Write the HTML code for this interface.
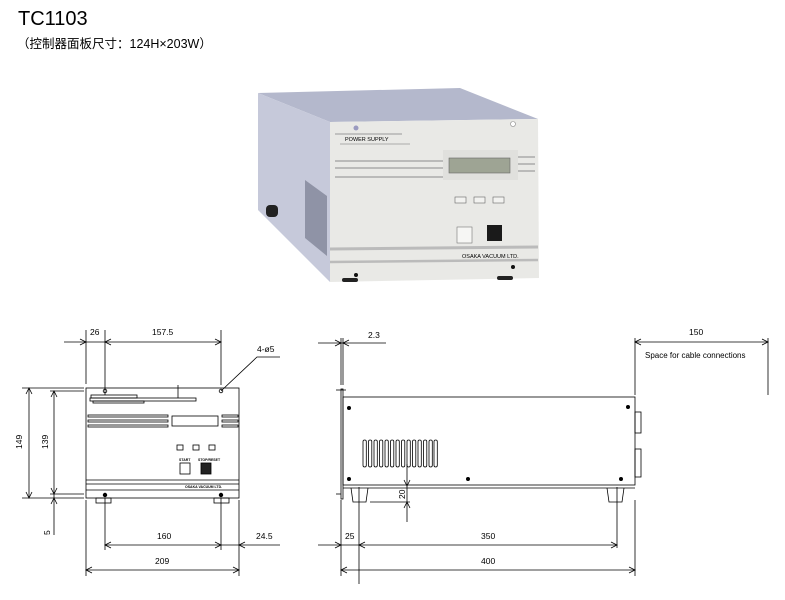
<!DOCTYPE html>
<html><head><meta charset="utf-8"><style>
html,body{margin:0;padding:0;background:#fff;}
svg{display:block;}
text{font-family:"Liberation Sans","Noto Sans CJK SC",sans-serif;fill:#000;}
</style></head><body>
<svg width="785" height="600" viewBox="0 0 785 600" xmlns="http://www.w3.org/2000/svg">
<text x="18" y="25" font-size="20">TC1103</text>
<text x="17" y="48" font-size="12.5">（控制器面板尺寸：124H×203W）</text>

<!-- photo -->
<polygon points="258,93 460,88 538,119 330,122" fill="#b4b8cc"/>
<polygon points="258,93 330,122 330,282 258,210" fill="#c6c9da"/>
<polygon points="305,180 327,196 327,256 305,238" fill="#8f93a6"/>
<rect x="266" y="205" width="12" height="12" rx="4" fill="#222"/>
<polygon points="330,122 538,119 539,278 330,282" fill="#e9e9e6"/>
<circle cx="356" cy="128" r="2.5" fill="#9a9ac0"/>
<circle cx="513" cy="124" r="2.5" fill="#fff" stroke="#888" stroke-width="0.6"/>
<line x1="335" y1="134" x2="402" y2="134" stroke="#999" stroke-width="1"/>
<text x="345" y="141" font-size="5.5">POWER SUPPLY</text>
<line x1="340" y1="144" x2="410" y2="144" stroke="#aaa" stroke-width="1"/>
<line x1="335" y1="161" x2="443" y2="161" stroke="#aaa" stroke-width="1.5"/>
<line x1="335" y1="168" x2="443" y2="168" stroke="#aaa" stroke-width="1.5"/>
<line x1="335" y1="177" x2="443" y2="177" stroke="#aaa" stroke-width="1.5"/>
<rect x="443" y="150" width="75" height="30" fill="#e0e0dd"/>
<rect x="449" y="158" width="61" height="15" fill="#9ea494" stroke="#666" stroke-width="0.6"/>
<line x1="518" y1="157" x2="535" y2="157" stroke="#aaa" stroke-width="1.5"/>
<line x1="518" y1="164" x2="535" y2="164" stroke="#aaa" stroke-width="1.5"/>
<line x1="518" y1="171" x2="535" y2="171" stroke="#aaa" stroke-width="1.5"/>
<rect x="455" y="197" width="11" height="6" fill="#f2f2f0" stroke="#666" stroke-width="0.6"/>
<rect x="474" y="197" width="11" height="6" fill="#f2f2f0" stroke="#666" stroke-width="0.6"/>
<rect x="493" y="197" width="11" height="6" fill="#f2f2f0" stroke="#666" stroke-width="0.6"/>
<rect x="457" y="227" width="15" height="16" fill="#f6f6f4" stroke="#777" stroke-width="0.6"/>
<rect x="487" y="225" width="15" height="16" fill="#1a1a1a"/>
<line x1="330" y1="249" x2="538" y2="247" stroke="#bbb" stroke-width="3"/>
<text x="462" y="258" font-size="5.5">OSAKA VACUUM LTD.</text>
<line x1="330" y1="262" x2="538" y2="260" stroke="#bbb" stroke-width="2.5"/>
<circle cx="356" cy="275" r="2" fill="#111"/>
<circle cx="513" cy="267" r="2" fill="#111"/>
<rect x="342" y="278" width="16" height="4" rx="2" fill="#222"/>
<rect x="497" y="276" width="16" height="4" rx="2" fill="#222"/>

<g stroke="#000" stroke-width="0.8" fill="none">
<!-- front view -->
<rect x="86" y="388" width="153" height="110"/>
<line x1="86" y1="480" x2="239" y2="480"/>
<line x1="86" y1="484" x2="239" y2="484"/>
<line x1="86" y1="490" x2="239" y2="490"/>
<rect x="96" y="498" width="15" height="5"/>
<rect x="214" y="498" width="15" height="5"/>
<rect x="91" y="395" width="46" height="3"/>
<rect x="90" y="398" width="106" height="3"/>
<rect x="93" y="401" width="51" height="2"/>
<line x1="178" y1="385" x2="178" y2="398"/>
<rect x="88" y="415" width="80" height="2"/>
<rect x="88" y="420" width="80" height="2"/>
<rect x="88" y="425" width="80" height="2"/>
<rect x="172" y="416" width="46" height="10"/>
<rect x="222" y="415" width="16" height="2"/>
<rect x="222" y="420" width="16" height="2"/>
<rect x="222" y="425" width="16" height="2"/>
<rect x="177" y="445" width="6" height="5"/>
<rect x="193" y="445" width="6" height="5"/>
<rect x="209" y="445" width="6" height="5"/>
<rect x="180" y="463" width="10" height="11"/>
<rect x="201" y="463" width="10" height="11" fill="#222"/>
<!-- holes -->
<circle cx="105" cy="391" r="1.8"/><circle cx="221" cy="391" r="1.8"/>
<circle cx="105" cy="495" r="1.8" fill="#000"/><circle cx="221" cy="495" r="1.8" fill="#000"/>
<!-- ext lines -->
<line x1="86" y1="330" x2="86" y2="384"/>
<line x1="105" y1="330" x2="105" y2="395"/>
<line x1="221" y1="330" x2="221" y2="385"/>
<line x1="64" y1="342" x2="221" y2="342"/>
<polyline points="80,339 86,342 80,345"/>
<polyline points="111,339 105,342 111,345"/>
<polyline points="215,339 221,342 215,345"/>
<polyline points="221,391 257,357 280,357"/>
<!-- left -->
<line x1="22" y1="388" x2="84" y2="388"/>
<line x1="22" y1="498" x2="84" y2="498"/>
<line x1="50" y1="391" x2="84" y2="391"/>
<line x1="50" y1="494" x2="84" y2="494"/>
<line x1="29" y1="388" x2="29" y2="498"/>
<polyline points="26,394 29,388 32,394"/><polyline points="26,492 29,498 32,492"/>
<line x1="54" y1="391" x2="54" y2="535"/>
<polyline points="51,397 54,391 57,397"/><polyline points="51,488 54,494 57,488"/>
<polyline points="51,504 54,498 57,504"/>
<!-- bottom -->
<line x1="86" y1="500" x2="86" y2="576"/>
<line x1="105" y1="498" x2="105" y2="550"/>
<line x1="221" y1="498" x2="221" y2="550"/>
<line x1="239" y1="500" x2="239" y2="576"/>
<line x1="105" y1="545" x2="280" y2="545"/>
<polyline points="111,542 105,545 111,548"/><polyline points="215,542 221,545 215,548"/>
<polyline points="245,542 239,545 245,548"/>
<line x1="86" y1="570" x2="239" y2="570"/>
<polyline points="92,567 86,570 92,573"/><polyline points="233,567 239,570 233,573"/>

<!-- side view -->
<rect x="341" y="389" width="2" height="110"/>
<line x1="336" y1="390" x2="346" y2="390"/>
<line x1="336" y1="494" x2="341" y2="494"/>
<rect x="343" y="397" width="292" height="88"/>
<line x1="343" y1="488" x2="635" y2="488"/>
<rect x="635" y="412" width="6" height="21"/>
<rect x="635" y="449" width="6" height="28"/>
<polyline points="351,488 353,502 366,502 368,488"/>
<polyline points="607,488 609,502 622,502 624,488"/>
<g fill="#fff">
<rect x="363" y="440" width="3.3" height="27" rx="1.6"/><rect x="368.5" y="440" width="3.3" height="27" rx="1.6"/>
<rect x="374" y="440" width="3.3" height="27" rx="1.6"/><rect x="379.5" y="440" width="3.3" height="27" rx="1.6"/>
<rect x="385" y="440" width="3.3" height="27" rx="1.6"/><rect x="390.5" y="440" width="3.3" height="27" rx="1.6"/>
<rect x="396" y="440" width="3.3" height="27" rx="1.6"/><rect x="401.5" y="440" width="3.3" height="27" rx="1.6"/>
<rect x="407" y="440" width="3.3" height="27" rx="1.6"/><rect x="412.5" y="440" width="3.3" height="27" rx="1.6"/>
<rect x="418" y="440" width="3.3" height="27" rx="1.6"/><rect x="423.5" y="440" width="3.3" height="27" rx="1.6"/>
<rect x="429" y="440" width="3.3" height="27" rx="1.6"/><rect x="434" y="440" width="3.3" height="27" rx="1.6"/>
</g>
<g fill="#000">
<circle cx="349" cy="408" r="1.6"/><circle cx="628" cy="407" r="1.6"/>
<circle cx="349" cy="479" r="1.6"/><circle cx="468" cy="479" r="1.6"/><circle cx="621" cy="479" r="1.6"/>
</g>
<line x1="341" y1="338" x2="341" y2="385"/>
<line x1="343" y1="338" x2="343" y2="385"/>
<line x1="318" y1="343" x2="386" y2="343"/>
<polyline points="335,340 341,343 335,346"/><polyline points="349,340 343,343 349,346"/>
<line x1="635" y1="338" x2="635" y2="395"/>
<line x1="768" y1="338" x2="768" y2="395"/>
<line x1="635" y1="342" x2="768" y2="342"/>
<polyline points="641,339 635,342 641,345"/><polyline points="762,339 768,342 762,345"/>
<line x1="407" y1="464" x2="407" y2="522"/>
<line x1="370" y1="502" x2="410" y2="502"/>
<polyline points="404,480 407,486 410,480"/><polyline points="404,508 407,502 410,508"/>
<line x1="341" y1="500" x2="341" y2="576"/>
<line x1="359" y1="487" x2="359" y2="584"/>
<line x1="617" y1="487" x2="617" y2="548"/>
<line x1="635" y1="500" x2="635" y2="576"/>
<line x1="318" y1="545" x2="617" y2="545"/>
<polyline points="335,542 341,545 335,548"/><polyline points="365,542 359,545 365,548"/>
<polyline points="611,542 617,545 611,548"/>
<line x1="341" y1="570" x2="635" y2="570"/>
<polyline points="347,567 341,570 347,573"/><polyline points="629,567 635,570 629,573"/>
</g>

<g font-size="8.5">
<text x="90" y="335">26</text>
<text x="152" y="335">157.5</text>
<text x="257" y="352">4-ø5</text>
<text x="157" y="539">160</text>
<text x="256" y="539">24.5</text>
<text x="155" y="564">209</text>
<text transform="translate(22,449) rotate(-90)">149</text>
<text transform="translate(48,449) rotate(-90)">139</text>
<text transform="translate(50,535) rotate(-90)">5</text>
<text x="368" y="338">2.3</text>
<text x="689" y="335">150</text>
<text x="645" y="358" font-size="8">Space for cable connections</text>
<text transform="translate(405,499) rotate(-90)">20</text>
<text x="345" y="539">25</text>
<text x="481" y="539">350</text>
<text x="481" y="564">400</text>
</g>
<g font-size="3.5" font-weight="bold">
<text x="179" y="461">START</text><text x="198" y="461">STOP/RESET</text>
<text x="185" y="488">OSAKA VACUUM LTD.</text>
</g>
</svg>
</body></html>
